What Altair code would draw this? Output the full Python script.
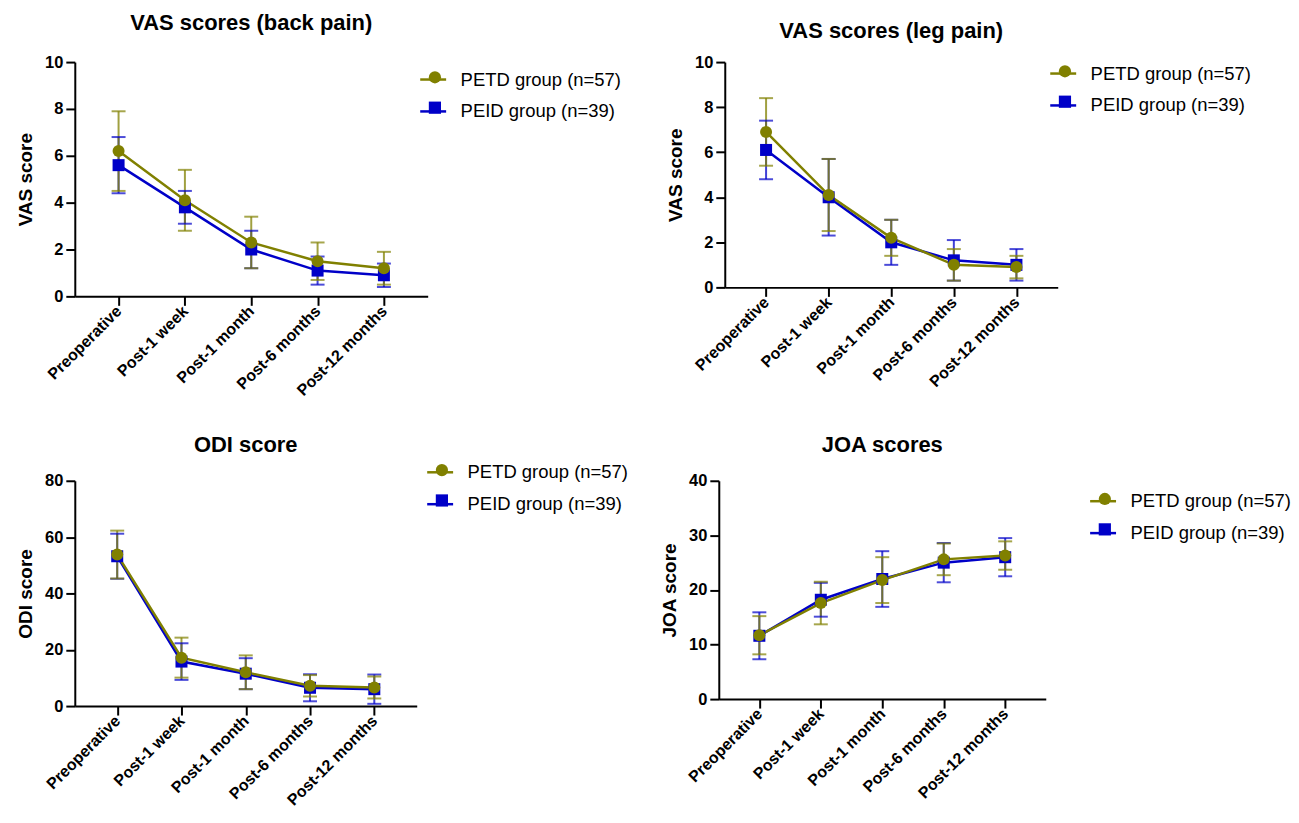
import altair as alt
import pandas as pd

timepoints = ["Preoperative", "Post-1 week", "Post-1 month", "Post-6 months", "Post-12 months"]
groups = ["PETD group (n=57)", "PEID group (n=39)"]
colors = ["#808000", "#0000C8"]
shapes = ["circle", "square"]

# VAS back pain
back_petd_mean = [6.2, 4.1, 2.3, 1.5, 1.2]
back_petd_sd = [1.7, 1.3, 1.1, 0.8, 0.7]
back_peid_mean = [5.6, 3.8, 2.0, 1.1, 0.9]
back_peid_sd = [1.2, 0.7, 0.8, 0.6, 0.5]

# VAS leg pain
leg_petd_mean = [6.9, 4.1, 2.2, 1.0, 0.9]
leg_petd_sd = [1.5, 1.6, 0.8, 0.7, 0.5]
leg_peid_mean = [6.1, 4.0, 2.0, 1.2, 1.0]
leg_peid_sd = [1.3, 1.7, 1.0, 0.9, 0.7]

# ODI
odi_petd_mean = [53.8, 17.2, 12.0, 7.2, 6.6]
odi_petd_sd = [8.5, 7.1, 6.0, 3.8, 3.9]
odi_peid_mean = [53.2, 15.8, 11.5, 6.5, 6.0]
odi_peid_sd = [8.0, 6.5, 5.5, 4.8, 5.2]

# JOA
joa_petd_mean = [11.7, 17.6, 21.8, 25.6, 26.3]
joa_petd_sd = [3.5, 3.9, 4.2, 2.9, 2.6]
joa_peid_mean = [11.6, 18.2, 22.0, 25.0, 26.0]
joa_peid_sd = [4.3, 3.1, 5.1, 3.6, 3.5]

FONT = "Liberation Sans"
LEG_FS = 18.5
LINE_SYMBOL = "M-1.3,0L1.3,0"


def panel(title, ytitle, ymax, ystep, petd_m, petd_s, peid_m, peid_s, w, h, lx, ly, toff):
    rows = []
    for g, ms, ss in [(groups[1], peid_m, peid_s), (groups[0], petd_m, petd_s)]:
        for t, m, s in zip(timepoints, ms, ss):
            rows.append({"time": t, "group": g, "grp": g, "mean": m,
                         "lo": max(m - s, 0), "hi": m + s})
    df = pd.DataFrame(rows)

    x = alt.X("time:N", sort=timepoints,
              scale=alt.Scale(type="point", padding=0.66),
              axis=alt.Axis(title=None, labelAngle=-45, labelAlign="right",
                            labelBaseline="middle", labelFont=FONT, labelFontSize=16,
                            labelFontWeight="bold", labelColor="black", labelPadding=3,
                            tickSize=9, grid=False, domainColor="black", domainWidth=2,
                            tickColor="black", tickWidth=2))
    yscale = alt.Scale(domain=[0, ymax], nice=False)
    yaxis = alt.Axis(title=ytitle, titleFont=FONT, titleFontSize=19, titleFontWeight="bold",
                     titleColor="black", titlePadding=9,
                     values=list(range(0, ymax + 1, ystep)), labelFont=FONT,
                     labelFontSize=16.5, labelFontWeight="bold", labelColor="black",
                     tickSize=9, grid=False, labelPadding=3, domainColor="black",
                     domainWidth=2, tickColor="black", tickWidth=2)
    col = alt.Color("group:N", scale=alt.Scale(domain=groups, range=colors),
                    legend=alt.Legend(title=None, orient="none", legendX=lx, legendY=ly,
                                      symbolType=LINE_SYMBOL, symbolSize=400,
                                      symbolStrokeWidth=2.5, labelFont=FONT,
                                      labelFontSize=LEG_FS, labelColor="black",
                                      labelLimit=400, rowPadding=11, labelOffset=16))
    col_nolegend = alt.Color("group:N", scale=alt.Scale(domain=groups, range=colors), legend=None)

    base = alt.Chart(df).encode(x=x)
    stems = base.mark_rule(strokeWidth=2, opacity=0.75).encode(
        y=alt.Y("lo:Q", scale=yscale, axis=yaxis), y2="hi:Q", color=col_nolegend)
    cap_lo = base.mark_tick(thickness=2, size=14).encode(
        y=alt.Y("lo:Q", scale=yscale), color=col_nolegend)
    cap_hi = base.mark_tick(thickness=2, size=14).encode(
        y=alt.Y("hi:Q", scale=yscale), color=col_nolegend)
    line = base.mark_line(strokeWidth=2.5).encode(
        y=alt.Y("mean:Q", scale=yscale), color=col, detail="group:N")
    leg2 = alt.Legend(title=None, orient="none", legendX=lx + 4, legendY=ly,
                      symbolSize=150, symbolStrokeWidth=0, labelOpacity=0,
                      labelExpr="' '", labelFont=FONT, labelFontSize=LEG_FS,
                      labelLimit=20, rowPadding=11.5, labelOffset=16)
    pts = base.mark_point(filled=True, opacity=1, size=145).encode(
        y=alt.Y("mean:Q", scale=yscale),
        fill=alt.Fill("grp:N", scale=alt.Scale(domain=groups, range=colors), legend=leg2),
        shape=alt.Shape("grp:N", scale=alt.Scale(domain=groups, range=shapes), legend=leg2),
    )
    return alt.layer(stems, cap_lo, cap_hi, line, pts).properties(
        width=w, height=h,
        view=alt.ViewBackground(stroke=None, strokeWidth=0),
        title=alt.TitleParams(title, font=FONT, fontSize=22, fontWeight="bold",
                              color="black", offset=toff),
    ).resolve_legend(color="independent", fill="independent", shape="independent")


p1 = panel("VAS scores (back pain)", "VAS score", 10, 2,
           back_petd_mean, back_petd_sd, back_peid_mean, back_peid_sd, 354, 235, 348, 6, 19)
p2 = panel("VAS scores (leg pain)", "VAS score", 10, 2,
           leg_petd_mean, leg_petd_sd, leg_peid_mean, leg_peid_sd, 334, 226, 328, 0, 11)
p3 = panel("ODI score", "ODI score", 80, 20,
           odi_petd_mean, odi_petd_sd, odi_peid_mean, odi_peid_sd, 343, 226, 355, -20, 4)
p4 = panel("JOA scores", "JOA score", 40, 10,
           joa_petd_mean, joa_petd_sd, joa_peid_mean, joa_peid_sd, 328, 219, 374, 9, 16)

chart = alt.vconcat(
    alt.hconcat(p1, p2, spacing=45),
    alt.hconcat(p3, p4, spacing=32),
    spacing=35,
    padding={"top": 3, "left": 8, "right": 0, "bottom": 0},
).configure_view(stroke=None, strokeWidth=0).configure(background="white")

chart.save("out.html", embed_options={"renderer": "svg", "actions": False})
